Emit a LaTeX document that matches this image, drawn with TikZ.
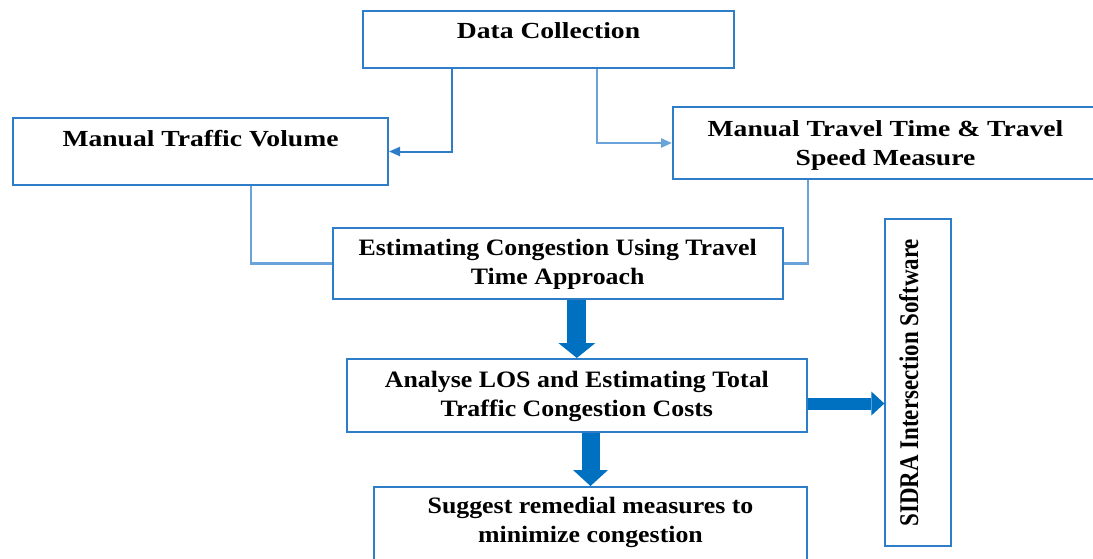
\documentclass[tikz,border=0pt]{standalone}
\usepackage{fontspec}
\setmainfont{Liberation Serif}
\newfontfamily\topserif[FakeStretch=1.2]{Liberation Serif}
\newfontfamily\lowserif[FakeStretch=1.1]{Liberation Serif}
\newfontfamily\sideserif[FakeStretch=0.85]{Liberation Serif}
\usepackage{tikz}
\usetikzlibrary{positioning,arrows.meta,calc}
\usepackage{xcolor}
\definecolor{boxblue}{RGB}{46,125,200}
\definecolor{linkblue}{RGB}{105,163,218}
\definecolor{flowblue}{RGB}{0,112,192}

\begin{document}
\begin{tikzpicture}[
  x=1pt, y=-1pt,
  >={Triangle[length=11pt,width=9pt]},
  box/.style={draw=boxblue, line width=2pt, inner sep=0pt, align=center,
              anchor=north west},
  toptxt/.style={font=\topserif\bfseries\fontsize{23}{29}\selectfont},
  lowtxt/.style={font=\lowserif\bfseries\fontsize{23.5}{29}\selectfont},
  link/.style={draw=linkblue, line width=2.5pt},
  flow/.style={draw=flowblue, line width=#1},
]
  \useasboundingbox (0,0) rectangle (1093,558);
  \clip (0,0) rectangle (1093,558);
  % ── Boxes (top left corner given) ──
  \node[box, toptxt, minimum width=371pt, text height=27.7pt, text depth=29.3pt]
    (dc) at (362,10) {Data Collection};
  \node[box, toptxt, minimum width=375pt, text height=28pt, text depth=39pt]
    (mtv) at (12,117) {Manual Traffic Volume};
  \node[box, toptxt, minimum width=425pt, text height=58.7pt, text depth=13.3pt]
    (mtt) at (672,106) {Manual Travel Time \& Travel\\Speed Measure};
  \node[box, lowtxt, minimum width=450pt, text height=56.3pt, text depth=14.7pt]
    (est) at (331.7,227) {Estimating Congestion Using Travel\\Time Approach};
  \node[box, lowtxt, minimum width=459.7pt, text height=57.7pt, text depth=15.3pt]
    (ana) at (346,358) {Analyse LOS and Estimating Total\\Traffic Congestion Costs};
  \node[box, lowtxt, minimum width=432.4pt, text height=55.7pt, text depth=51pt]
    (sug) at (373.3,486) {Suggest remedial measures to\\minimize congestion};
  % ── Side box, text turned upwards ──
  \node[box, anchor=center, rotate=90, minimum width=326.7pt,
        text height=32.7pt, text depth=33pt,
        font=\sideserif\bfseries\fontsize{27}{29}\selectfont]
    (sid) at (918.2,382.7) {SIDRA Intersection Software};
  % ── Thin elbow connectors ──
  \draw[boxblue, line width=2pt, ->] ([xshift=90pt]dc.south west) |- (mtv.east);
  \draw[link, ->] ([xshift=235pt]dc.south west) |- (mtt.west);
  \draw[link] ([xshift=239pt]mtv.south west) |- (est.west);
  \draw[link] ([xshift=136pt]mtt.south west) |- (est.east);
  % ── Block arrows ──
  \draw[flow=19pt, -{Triangle[line width=0pt, length=15pt, width=37pt]}]
    (est.south -| ana.north) -- (ana.north);
  \draw[flow=18pt, -{Triangle[line width=0pt, length=16pt, width=35pt]}]
    (ana.south -| sug.north) -- (sug.north);
  \draw[flow=12pt, -{Triangle[line width=0pt, length=13pt, width=24pt]}]
    ([yshift=-8pt]ana.east) -- ([yshift=-8pt]ana.east -| sid.north);
\end{tikzpicture}
\end{document}
